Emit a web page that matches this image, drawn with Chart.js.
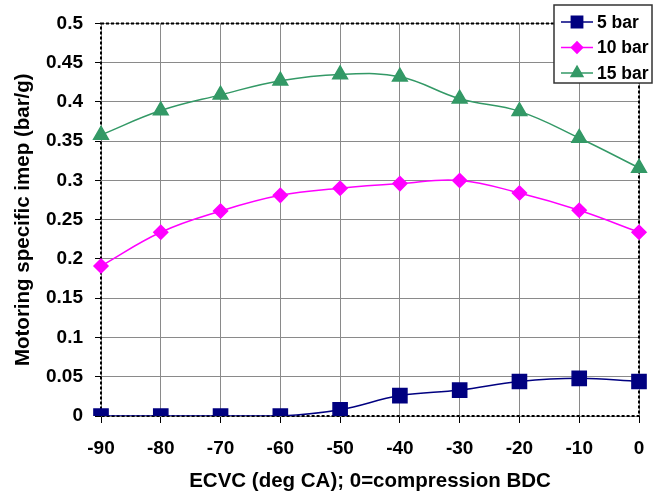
<!DOCTYPE html>
<html>
<head>
<meta charset="utf-8">
<script src="https://cdn.jsdelivr.net/npm/chart.js@4.4.1/dist/chart.umd.min.js"></script>
<style>
  html, body { margin: 0; padding: 0; background: #fff; }
  #wrap { width: 660px; height: 498px; }
</style>
</head>
<body>
<div id="wrap"><canvas id="imepChart" width="660" height="498"></canvas></div>
<script>
// ── Data ──────────────────────────────────────────────────────
const ecvc    = ['-90', '-80', '-70', '-60', '-50', '-40', '-30', '-20', '-10', '0'];
const bar5    = [0, 0, 0, 0, 0.008, 0.026, 0.033, 0.044, 0.048, 0.044];
const bar10   = [0.191, 0.234, 0.261, 0.281, 0.290, 0.296, 0.300, 0.284, 0.262, 0.234];
const bar15   = [0.358, 0.389, 0.409, 0.427, 0.435, 0.432, 0.404, 0.388, 0.354, 0.316];
const yTicks  = [0, 0.05, 0.1, 0.15, 0.2, 0.25, 0.3, 0.35, 0.4, 0.45, 0.5];

const FAMILY     = 'Arial, "Liberation Sans", sans-serif';
const TICK_FONT  = { family: FAMILY, size: 19, weight: 'bold' };
const TITLE_FONT = { family: FAMILY, size: 20.5, weight: 'bold' };

// ── Dashed black frame round the plot area ────────────────────
const framePlugin = {
    id: 'frame',
    beforeDatasetsDraw(chart) {
        const { ctx, chartArea: a } = chart;
        ctx.save();
        ctx.strokeStyle = '#000';
        ctx.lineWidth = 2;
        ctx.setLineDash([3, 2]);
        ctx.strokeRect(a.left, a.top, a.right - a.left, a.bottom - a.top);
        ctx.restore();
    }
};

// ── Floating legend box, top right ────────────────────────────
const boxLegend = {
    id: 'boxLegend',
    afterDraw(chart) {
        const ctx = chart.ctx;
        const x = 554, y = 5, w = 98, h = 78;
        ctx.save();
        ctx.fillStyle = '#fff';
        ctx.fillRect(x, y, w, h);
        ctx.strokeStyle = '#333';
        ctx.lineWidth = 1.5;
        ctx.strokeRect(x, y, w, h);
        ctx.font = `bold 17.5px ${FAMILY}`;
        ctx.textBaseline = 'middle';
        chart.data.datasets.forEach((ds, i) => {
            const cy = y + 17 + i * 25.5;
            ctx.strokeStyle = ds.borderColor;
            ctx.lineWidth = 1.5;
            ctx.beginPath();
            ctx.moveTo(x + 7, cy);
            ctx.lineTo(x + 39, cy);
            ctx.stroke();
            ctx.fillStyle = ds.pointBackgroundColor;
            ctx.strokeStyle = ds.pointBackgroundColor;
            Chart.helpers.drawPoint(ctx, {
                pointStyle: ds.pointStyle, radius: ds.pointRadius * 0.8, borderWidth: 1, rotation: 0
            }, x + 23, cy);
            ctx.fillStyle = '#000';
            ctx.fillText(ds.label, x + 43, cy + 1);
        });
        ctx.restore();
    }
};

new Chart(document.getElementById('imepChart').getContext('2d'), {
    type: 'line',
    data: {
        labels: ecvc,
        datasets: [
            {
                label: '5 bar', data: bar5,
                borderColor: '#000080', pointBackgroundColor: '#000080', pointBorderColor: '#000080',
                pointStyle: 'rect', pointRadius: 10, borderWidth: 1.5, tension: 0.4
            },
            {
                label: '10 bar', data: bar10,
                borderColor: '#FF00FF', pointBackgroundColor: '#FF00FF', pointBorderColor: '#FF00FF',
                pointStyle: 'rectRot', pointRadius: 7, borderWidth: 1.5, tension: 0.4
            },
            {
                label: '15 bar', data: bar15,
                borderColor: '#339966', pointBackgroundColor: '#339966', pointBorderColor: '#339966',
                pointStyle: 'triangle', pointRadius: 8.5, borderWidth: 1.5, tension: 0.4
            }
        ]
    },
    options: {
        responsive: false,
        animation: false,
        layout: { padding: { top: 22, right: 21, left: 0, bottom: 0 } },
        plugins: { legend: { display: false }, tooltip: { enabled: false } },
        scales: {
            x: {
                offset: false,
                afterFit: s => { s.height = 82; },
                grid: {
                    color: '#8a8a8a', borderDash: [1, 1], lineWidth: 1,
                    tickColor: '#000', tickLength: 7, drawOnChartArea: true
                },
                border: { display: false },
                ticks: { color: '#000', font: TICK_FONT, padding: 14, maxRotation: 0 },
                title: {
                    display: true, text: 'ECVC (deg CA); 0=compression BDC',
                    color: '#000', font: TITLE_FONT, padding: { top: 0, bottom: 4 }
                }
            },
            y: {
                min: 0, max: 0.5,
                afterFit: s => { s.width = 101; },
                afterBuildTicks: s => { s.ticks = yTicks.map(v => ({ value: v })); },
                grid: {
                    color: '#8a8a8a', borderDash: [1, 1], lineWidth: 1,
                    tickColor: '#000', tickLength: 6
                },
                border: { display: false },
                ticks: {
                    color: '#000', font: TICK_FONT, padding: 12,
                    callback: v => String(Math.round(v * 100) / 100)
                },
                title: {
                    display: true, text: 'Motoring specific imep (bar/g)',
                    color: '#000', font: TITLE_FONT, padding: { top: 11, bottom: 0 }
                }
            }
        }
    },
    plugins: [framePlugin, boxLegend]
});
</script>
</body>
</html>
